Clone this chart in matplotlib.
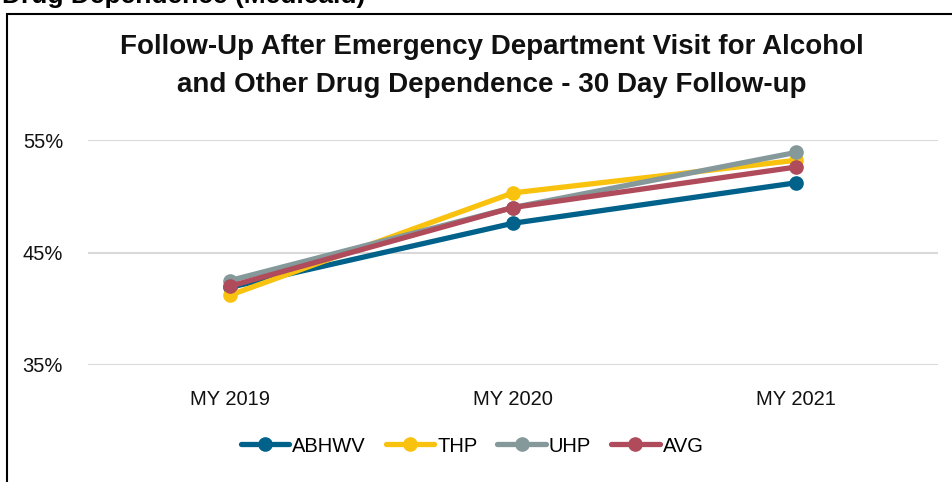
import matplotlib.pyplot as plt
from matplotlib.patches import Rectangle
from matplotlib.ticker import FuncFormatter

plt.rcParams['font.family'] = ['Liberation Sans', 'DejaVu Sans']

#データ
years = ['MY 2019', 'MY 2020', 'MY 2021']
abhwv = [41.9, 47.6, 51.2]
thp = [41.2, 50.3, 53.2]
uhp = [42.5, 49.0, 53.9]
avg = [42.0, 49.0, 52.6]

series = [
    ('ABHWV', abhwv, '#00618A'),
    ('THP', thp, '#F9C20F'),
    ('UHP', uhp, '#85989A'),
    ('AVG', avg, '#AF4B5B'),
]

fig = plt.figure(figsize=(9.52, 4.82), dpi=100)
W, H = 952, 482

#枠線
fig.patches.append(Rectangle((7 / W, -0.1), 1.2, 1 - 14 / H + 0.1,
                             transform=fig.transFigure, fill=False,
                             edgecolor='black', linewidth=1.5))
#上の切れた見出し
fig.text(365 / W, 1 - 3 / H, 'Drug Dependence (Medicaid)', ha='right', va='baseline',
         fontsize=19, fontweight='bold')

ax = fig.add_axes([88 / W, 1 - 365 / H, (938 - 88) / W, (365 - 140) / H])
x = range(len(years))
for name, vals, color in series:
    ax.plot(x, vals, color=color, linewidth=3.8, marker='o', markersize=9.5,
            label=name, solid_capstyle='round')

ax.set_xlim(-0.5, 2.5)
ax.set_ylim(35, 55)
ax.set_yticks([35, 45, 55])
ax.yaxis.set_major_formatter(FuncFormatter(lambda v, p: '%d%%' % v))
ax.set_xticks(list(x))
ax.set_xticklabels(years)
ax.grid(axis='y', color='#D9D9D9', linewidth=1.5)
ax.set_axisbelow(True)
for s in ax.spines.values():
    s.set_visible(False)
ax.tick_params(length=0, labelsize=14.5, colors='#111111')
ax.tick_params(axis='x', pad=18)
ax.tick_params(axis='y', pad=18)

fig.text(492 / W, 1 - 47 / H, 'Follow-Up After Emergency Department Visit for Alcohol',
         ha='center', va='center', fontsize=20, fontweight='bold', color='#111111')
fig.text(492 / W, 1 - 85 / H, 'and Other Drug Dependence - 30 Day Follow-up',
         ha='center', va='center', fontsize=20, fontweight='bold', color='#111111')

fig.legend(loc='center', bbox_to_anchor=(472 / W, 1 - 446 / H), ncol=4, frameon=False,
           fontsize=14.5, handlelength=2.4, columnspacing=1.0, handletextpad=0.15)

fig.savefig('out.png', dpi=100)
